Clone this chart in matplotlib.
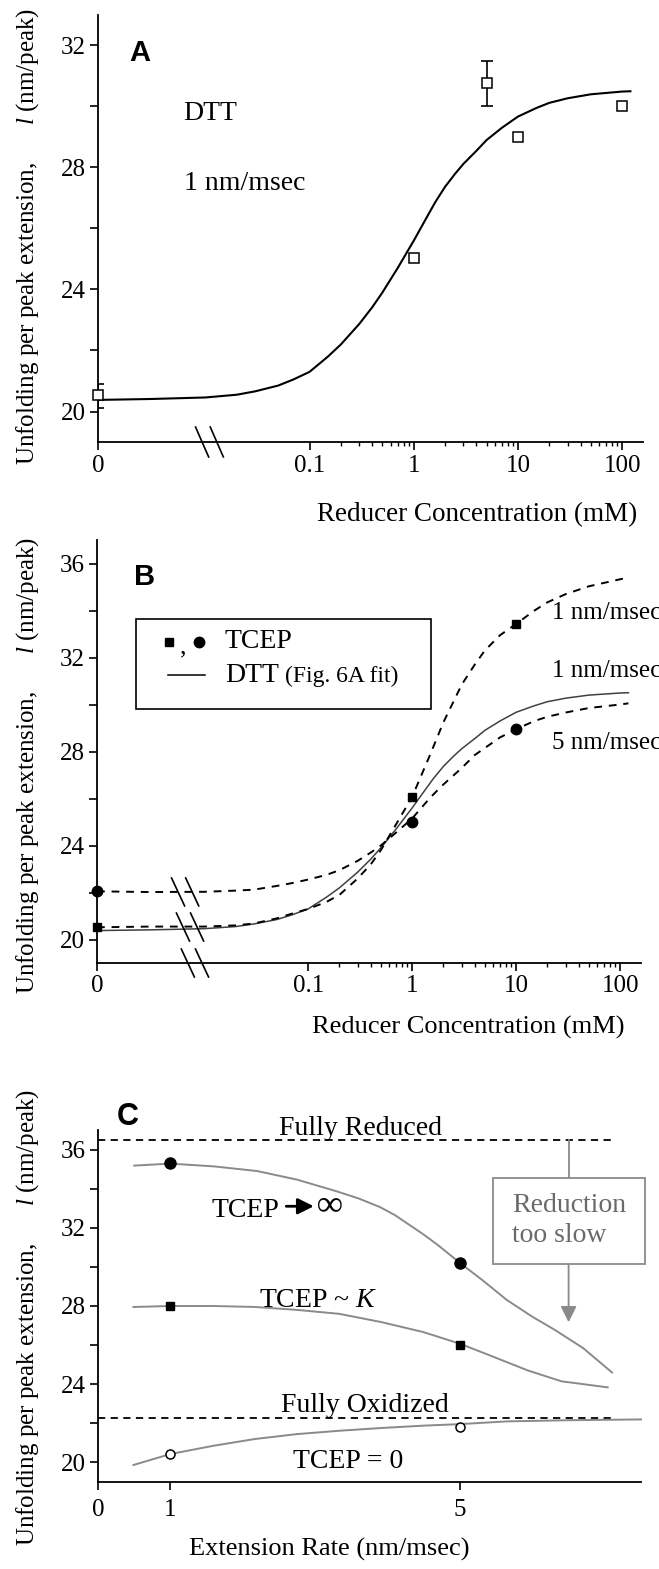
import numpy as np
import matplotlib
matplotlib.use("Agg")
import matplotlib.pyplot as plt
from matplotlib.patches import Rectangle

plt.rcParams['font.family'] = ['Liberation Serif', 'DejaVu Serif']
plt.rcParams['mathtext.fontset'] = 'custom'
plt.rcParams['mathtext.rm'] = 'Liberation Serif'
plt.rcParams['mathtext.it'] = 'Liberation Serif:italic'

# ---- Panel A: DTT, 1 nm/msec ----
dtt_conc = [0, 1, 5, 10, 100]
dtt_mean = [20.54, 25.02, 30.76, 29.01, 30.03]
dtt_err_lo = [0.43, 0, 0.76, 0, 0]
dtt_err_hi = [0.36, 0, 0.72, 0, 0]

# fitted curve (same curve reused in panel B)
dtt_fit_conc = [0, 0.003, 0.01, 0.02, 0.03, 0.05, 0.07, 0.1, 0.15, 0.2, 0.3, 0.4, 0.5, 0.7,
                1, 1.3, 1.6, 2, 2.5, 3, 4, 5, 7, 10, 15, 20, 30, 50, 100, 120]
dtt_fit_val = [20.38, 20.41, 20.46, 20.55, 20.66, 20.85, 21.05, 21.3, 21.8, 22.2, 22.87,
               23.42, 23.9, 24.7, 25.6, 26.3, 26.85, 27.37, 27.8, 28.12, 28.55, 28.9,
               29.3, 29.67, 29.95, 30.12, 30.27, 30.4, 30.49, 30.5]

# ---- Panel B: TCEP ----
tcep_conc = [0, 1, 10]
tcep_1nm = [20.52, 26.07, 33.43]
tcep_5nm = [22.05, 25.0, 28.95]

tcep_fit_conc = [0, 0.003, 0.01, 0.02, 0.03, 0.05, 0.07, 0.1, 0.15, 0.2, 0.3, 0.4, 0.5, 0.7,
                 1, 1.5, 2, 3, 4, 5, 7, 10, 15, 20, 30, 50, 100, 120]
tcep_1nm_fit = [20.52, 20.55, 20.55, 20.6, 20.68, 20.9, 21.1, 21.3, 21.6, 21.9, 22.6, 23.2,
                23.8, 24.9, 26.07, 27.9, 29.25, 30.85, 31.7, 32.3, 32.95, 33.43, 34.0,
                34.35, 34.7, 35.03, 35.33, 35.4]
tcep_5nm_fit = [22.05, 22.02, 22.03, 22.08, 22.12, 22.28, 22.4, 22.55, 22.75, 22.95, 23.35,
                23.7, 24.0, 24.55, 25.15, 26.05, 26.6, 27.3, 27.85, 28.15, 28.6, 28.95,
                29.3, 29.48, 29.66, 29.85, 30.0, 30.05]

# ---- Panel C: extension rate ----
rate_pts = [1, 5]
tcep_inf_pts = [35.3, 30.2]
tcep_k_pts = [28.0, 26.03]
tcep_0_pts = [20.43, 21.82]

rate_inf = [0.5, 1.0, 1.6, 2.2, 2.75, 3.3, 3.6, 3.9, 4.1, 4.3, 4.5, 4.7, 5.0, 5.3, 5.65,
            6.0, 6.3, 6.7, 7.1]
fit_inf = [35.18, 35.28, 35.14, 34.9, 34.46, 33.86, 33.5, 33.05, 32.65, 32.15, 31.65, 31.1,
           30.2, 29.35, 28.3, 27.45, 26.8, 25.85, 24.6]
rate_k = [0.49, 1, 1.59, 2.17, 2.75, 3.33, 3.91, 4.49, 5, 5.36, 5.94, 6.4, 7.04]
fit_k = [27.95, 28.0, 28.0, 27.95, 27.8, 27.6, 27.18, 26.67, 26.07, 25.55, 24.7, 24.15, 23.84]
rate_0 = [0.49, 1, 1.59, 2.17, 2.75, 3.33, 3.91, 4.49, 5, 5.65, 6.52, 7.5]
fit_0 = [19.87, 20.43, 20.85, 21.2, 21.45, 21.62, 21.76, 21.88, 21.96, 22.1, 22.16, 22.2]

fully_reduced = 36.48
fully_oxidized = 22.27
limit_rates = [0, 7.1]

ZERO_POS = -3.03  # where "0" sits on the broken log axis


def fwd(c):
    c = np.asarray(c, dtype=float)
    safe = np.where(c > 0, c, 1.0)
    return np.where(c > 0, np.log10(safe), ZERO_POS)


def inv(u):
    return 10.0 ** np.asarray(u, dtype=float)


def style_axes(ax, yticks, yminor):
    for s in ['top', 'right']:
        ax.spines[s].set_visible(False)
    for s in ['left', 'bottom']:
        ax.spines[s].set_linewidth(1.3)
    ax.set_yticks(yticks, labels=[str(t) for t in yticks])
    ax.set_yticks(yminor, minor=True)
    ax.tick_params(axis='both', which='major', direction='out', length=6, width=1.2,
                   labelsize=18, pad=3)
    ax.tick_params(axis='y', which='minor', direction='out', length=6, width=1.2)
    ax.tick_params(axis='x', which='minor', direction='out', length=3, width=1.0)


def log_break_axis(ax):
    ax.set_xscale('function', functions=(fwd, inv))
    ax.set_xlim(10 ** -3.055, 10 ** 2.2)
    ax.set_xticks([0, 0.1, 1, 10, 100], labels=['0', '0.1', '1', '10', '100'])
    minors = [k * 10.0 ** d for d in (-1, 0, 1) for k in range(2, 10)]
    ax.set_xticks(minors, minor=True)
    ax.set_xticklabels([], minor=True)


def break_mark(ax, xc, yc, dx=0.012, dy=0.034):
    ax.plot([xc - dx, xc + dx], [yc + dy, yc - dy], transform=ax.transAxes,
            color='black', lw=1.2, clip_on=False)


fig = plt.figure(figsize=(6.59, 15.69), dpi=100)
H = 1569.0
W = 659.0
ylab = "Unfolding per peak extension,      $\\it{l}$ (nm/peak)"

# ================= Panel A =================
axA = fig.add_axes([98 / W, 1 - 442 / H, 545 / W, 427 / H])
log_break_axis(axA)
axA.set_ylim(19, 33)
style_axes(axA, [20, 24, 28, 32], [22, 26, 30])

axA.plot(dtt_fit_conc, dtt_fit_val, color='black', lw=1.5)
err_idx = [i for i in range(len(dtt_conc)) if dtt_err_hi[i] > 0]
axA.errorbar([dtt_conc[i] for i in err_idx], [dtt_mean[i] for i in err_idx],
             yerr=[[dtt_err_lo[i] for i in err_idx], [dtt_err_hi[i] for i in err_idx]],
             fmt='none', ecolor='black', elinewidth=1.2, capsize=4, capthick=1.2)
axA.plot(dtt_conc, dtt_mean, 's', ms=6.5, mfc='white', mec='black', mew=1.1,
         linestyle='none', clip_on=False, zorder=5)
axA.text(0.0062, 29.77, "DTT", fontsize=20, va='center', ha='left')
axA.text(0.0062, 27.47, "1 nm/msec", fontsize=20, va='center', ha='left')
break_mark(axA, 0.191, 0.0, dy=0.035)
break_mark(axA, 0.218, 0.0, dy=0.035)
axA.set_xlabel("Reducer Concentration (mM)", fontsize=19.5)
axA.xaxis.set_label_coords(0.695, -0.14)
axA.set_ylabel(ylab, fontsize=18)
axA.yaxis.set_label_coords(-0.105, 0.482)
fig.text(140 / W, 1 - 53 / H, "A", fontsize=21, fontweight='bold',
         family='Liberation Sans', ha='center', va='center')

# ================= Panel B =================
axB = fig.add_axes([97 / W, 1 - 963 / H, 544 / W, 423 / H])
log_break_axis(axB)
axB.set_ylim(19, 37)
style_axes(axB, [20, 24, 28, 32, 36], [22, 26, 30, 34])

axB.plot(dtt_fit_conc, dtt_fit_val, color='#404040', lw=1.1)
axB.plot(tcep_fit_conc, tcep_1nm_fit, color='black', lw=1.4, dashes=(4, 3.5))
axB.plot(tcep_fit_conc, tcep_5nm_fit, color='black', lw=1.4, dashes=(4, 3.5))
axB.plot(tcep_conc, tcep_1nm, 's', ms=6, color='black', clip_on=False, zorder=5)
axB.plot(tcep_conc, tcep_5nm, 'o', ms=7.5, color='black', clip_on=False, zorder=5)
axB.text(22, 33.9, "1 nm/msec", fontsize=18, va='center', ha='left', clip_on=False)
axB.text(22, 31.42, "1 nm/msec", fontsize=18, va='center', ha='left', clip_on=False)
axB.text(22, 28.38, "5 nm/msec", fontsize=18, va='center', ha='left', clip_on=False)

# legend box drawn by hand
axB.add_patch(Rectangle((0.0726, 0.60), 0.5414, 0.213, transform=axB.transAxes,
                        fill=False, edgecolor='black', lw=1.2, clip_on=False))
axB.plot([0.132], [0.759], 's', ms=6, color='black', transform=axB.transAxes, clip_on=False)
axB.text(0.158, 0.745, ",", fontsize=19, ha='center', va='center', transform=axB.transAxes)
axB.plot([0.1875], [0.759], 'o', ms=7.5, color='black', transform=axB.transAxes, clip_on=False)
axB.text(0.235, 0.759, "TCEP", fontsize=20, ha='left', va='center', transform=axB.transAxes)
axB.plot([0.13, 0.198], [0.681, 0.681], color='black', lw=1.1, transform=axB.transAxes)
axB.text(0.235, 0.679, "DTT", fontsize=20, ha='left', va='center', transform=axB.transAxes)
axB.text(0.345, 0.677, "(Fig. 6A fit)", fontsize=17, ha='left', va='center',
         transform=axB.transAxes)

for (xc, yc) in [(0.149, 0.168), (0.175, 0.168), (0.158, 0.085), (0.184, 0.085),
                 (0.167, 0.0), (0.193, 0.0)]:
    break_mark(axB, xc, yc, dx=0.012, dy=0.033)
axB.set_xlabel("Reducer Concentration (mM)", fontsize=19)
axB.xaxis.set_label_coords(0.682, -0.125)
axB.set_ylabel(ylab, fontsize=18)
axB.yaxis.set_label_coords(-0.103, 0.468)
fig.text(145 / W, 1 - 577 / H, "B", fontsize=21, fontweight='bold',
         family='Liberation Sans', ha='center', va='center')

# ================= Panel C =================
axC = fig.add_axes([98 / W, 1 - 1482 / H, 543 / W, 352 / H])
axC.set_xlim(0, 7.5)
axC.set_ylim(19, 37)
style_axes(axC, [20, 24, 28, 32, 36], [22, 26, 30, 34])
axC.set_xticks([0, 1, 5], labels=['0', '1', '5'])
axC.tick_params(axis='x', which='major', pad=6)

gray = '#8a8a8a'
axC.plot(limit_rates, [fully_reduced] * 2, color='black', lw=1.3, dashes=(4, 3))
axC.plot(limit_rates, [fully_oxidized] * 2, color='black', lw=1.3, dashes=(4, 3))
axC.plot(rate_inf, fit_inf, color=gray, lw=1.4)
axC.plot(rate_k, fit_k, color=gray, lw=1.4)
axC.plot(rate_0, fit_0, color=gray, lw=1.4, clip_on=False)
axC.plot(rate_pts, tcep_inf_pts, 'o', ms=8, color='black', zorder=5)
axC.plot(rate_pts, tcep_k_pts, 's', ms=6, color='black', zorder=5)
axC.plot(rate_pts, tcep_0_pts, 'o', ms=6.5, mfc='white', mec='black', mew=1.1, zorder=5)

axC.text(3.62, 37.1, "Fully Reduced", fontsize=20, ha='center', va='center')
axC.text(3.68, 22.9, "Fully Oxidized", fontsize=20, ha='center', va='center')
axC.text(3.45, 20.05, "TCEP = 0", fontsize=20, ha='center', va='center')
axC.text(3.04, 28.3, "TCEP ~ $\\it{K}$", fontsize=20, ha='center', va='center')
axC.text(2.03, 32.9, "TCEP", fontsize=20, ha='center', va='center')
axC.annotate("", xy=(2.98, 33.1), xytext=(2.6, 33.1),
             arrowprops=dict(arrowstyle='-|>', color='black', lw=2, mutation_scale=24,
                             shrinkA=0, shrinkB=0))
axC.text(3.2, 33.15, "\u221e", fontsize=26, ha='center', va='center', fontweight='bold')

# "Reduction too slow" box with arrow
axC.plot([6.5, 6.5], [fully_reduced, 34.56], color=gray, lw=1.3)
axC.add_patch(Rectangle((5.45, 30.15), 2.11, 4.41, fill=True, facecolor='white',
                        edgecolor=gray, lw=1.3, clip_on=False, zorder=6))
axC.text(5.72, 32.36, "Reduction\ntoo slow", fontsize=20, color='#6a6a6a', ha='left',
         va='center', linespacing=1.25, zorder=7)
axC.annotate("", xy=(6.5, 27.17), xytext=(6.5, 30.15),
             arrowprops=dict(arrowstyle='-|>', color=gray, lw=1.3, mutation_scale=24,
                             shrinkA=0, shrinkB=0))

axC.set_xlabel("Extension Rate (nm/msec)", fontsize=19)
axC.xaxis.set_label_coords(0.425, -0.16)
axC.set_ylabel(ylab, fontsize=18)
axC.yaxis.set_label_coords(-0.105, 0.466)
fig.text(128 / W, 1 - 1117 / H, "C", fontsize=22, fontweight='bold',
         family='Liberation Sans', ha='center', va='center')

fig.savefig("out.png", dpi=100)
